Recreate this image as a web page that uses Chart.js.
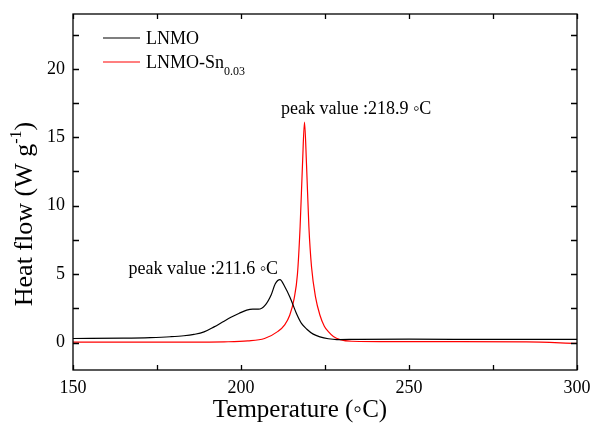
<!DOCTYPE html>
<html>
<head>
<meta charset="utf-8">
<script src="https://cdn.jsdelivr.net/npm/chart.js@4/dist/chart.umd.min.js"></script>
<style>
  html, body { margin: 0; padding: 0; background: #fff; }
  #wrap { width: 592px; height: 425px; }
</style>
</head>
<body>
<div id="wrap"><canvas id="dscChart" width="592" height="425"></canvas></div>
<script>
// DSC curves: temperature (°C) vs heat flow (W g-1)
const lnmoTemp = [150, 165, 173, 179, 183, 186, 189, 192, 194.5, 197, 199.5, 201.7, 203.5, 205.2, 207.2, 209, 210.2, 211.6, 213, 214.6, 216.6, 218, 219.6, 221.5, 223.5, 226, 228.5, 235, 250, 270, 300];
const lnmoFlow = [0.3, 0.33, 0.37, 0.43, 0.5, 0.6, 0.78, 1.15, 1.5, 1.85, 2.15, 2.37, 2.44, 2.44, 2.74, 3.5, 4.3, 4.6, 4.1, 3.3, 2.07, 1.4, 0.98, 0.62, 0.42, 0.28, 0.22, 0.24, 0.25, 0.24, 0.23];

const snTemp = [150, 180, 195, 202, 207, 211, 213, 214.5, 215.8, 216.8, 217.6, 218.3, 218.9, 219.5, 220.2, 221, 222.2, 223.5, 224.8, 226, 227.5, 229.5, 233, 245, 265, 285, 300];
const snFlow = [0.04, 0.04, 0.06, 0.12, 0.3, 0.82, 1.3, 2.0, 3.2, 5.0, 8.5, 13.0, 16.1, 13.0, 8.5, 5.5, 3.3, 2.0, 1.2, 0.8, 0.45, 0.22, 0.1, 0.07, 0.07, 0.05, -0.05];

const xTicks = [150, 175, 200, 225, 250, 275, 300];
const yTicks = [0, 2.5, 5, 7.5, 10, 12.5, 15, 17.5, 20, 22.5];

const seriesNames = ['LNMO', 'LNMO-Sn'];
const seriesSub = ['', '0.03'];
const seriesColors = ['#000000', '#ff0000'];

// peak callouts, anchored in data units (left edge / baseline)
const peakNotes = [
  { text: 'peak value :218.9 \u25E6C', x: 211.9, y: 16.7 },
  { text: 'peak value :211.6 \u25E6C', x: 166.5, y: 5.0 }
];

const serif = '"Liberation Serif", "Times New Roman", serif';

const toPoints = (xs, ys) => xs.map((v, i) => ({ x: v, y: ys[i] }));

// draws a list of [text, fontSize, rise] runs starting at x
function drawRuns(ctx, runs, x, y) {
  runs.forEach(([txt, size, rise]) => {
    ctx.font = size + 'px ' + serif;
    ctx.fillText(txt, x, y - rise);
    x += ctx.measureText(txt).width;
  });
}
function runsWidth(ctx, runs) {
  return runs.reduce((w, [txt, size]) => {
    ctx.font = size + 'px ' + serif;
    return w + ctx.measureText(txt).width;
  }, 0);
}

const decorations = {
  id: 'decorations',
  afterDatasetsDraw(chart) {
    const { ctx, chartArea: a, scales: { x, y } } = chart;
    ctx.save();

    // frame + inward ticks on all four sides
    ctx.strokeStyle = '#000';
    ctx.lineWidth = 1.3;
    ctx.strokeRect(a.left, a.top, a.right - a.left, a.bottom - a.top);
    ctx.beginPath();
    xTicks.forEach(v => {
      const px = Math.round(x.getPixelForValue(v)) + 0.5;
      ctx.moveTo(px, a.bottom); ctx.lineTo(px, a.bottom - 5);
      ctx.moveTo(px, a.top); ctx.lineTo(px, a.top + 5);
    });
    yTicks.forEach(v => {
      const py = Math.round(y.getPixelForValue(v)) + 0.5;
      ctx.moveTo(a.left, py); ctx.lineTo(a.left + 6, py);
      ctx.moveTo(a.right, py); ctx.lineTo(a.right - 6, py);
    });
    ctx.stroke();

    ctx.fillStyle = '#000';
    ctx.textBaseline = 'alphabetic';
    ctx.textAlign = 'left';

    // legend
    seriesNames.forEach((name, i) => {
      const ly = 38 + i * 24;
      ctx.strokeStyle = seriesColors[i];
      ctx.lineWidth = 1.2;
      ctx.beginPath();
      ctx.moveTo(103, ly); ctx.lineTo(140, ly);
      ctx.stroke();
      const runs = [[name, 18, 0]];
      if (seriesSub[i]) runs.push([seriesSub[i], 12, -7]);
      drawRuns(ctx, runs, 146, ly + 6);
    });

    // peak labels
    ctx.font = '18px ' + serif;
    peakNotes.forEach(n => {
      ctx.fillText(n.text, x.getPixelForValue(n.x), y.getPixelForValue(n.y));
    });

    // x axis title
    ctx.font = '25px ' + serif;
    ctx.textAlign = 'center';
    ctx.fillText('Temperature (\u25E6C)', 300, 417);

    // y axis title with superscript
    ctx.textAlign = 'left';
    const yRuns = [['Heat flow (W g', 26, 0], ['-1', 16, 11], [')', 26, 0]];
    const w = runsWidth(ctx, yRuns);
    ctx.translate(32, 214);
    ctx.rotate(-Math.PI / 2);
    drawRuns(ctx, yRuns, -w / 2, 0);

    ctx.restore();
  }
};

// keep the plot box fixed: no extra room for overhanging tick labels
const noOverhang = s => { s.paddingLeft = 0; s.paddingRight = 0; s.paddingTop = 0; s.paddingBottom = 0; };

new Chart(document.getElementById('dscChart'), {
  type: 'line',
  data: {
    datasets: [
      { label: seriesNames[0], data: toPoints(lnmoTemp, lnmoFlow), borderColor: seriesColors[0], borderWidth: 1.2, pointRadius: 0, cubicInterpolationMode: 'monotone', fill: false },
      { label: seriesNames[1] + seriesSub[1], data: toPoints(snTemp, snFlow), borderColor: seriesColors[1], borderWidth: 1.2, pointRadius: 0, cubicInterpolationMode: 'monotone', fill: false }
    ]
  },
  options: {
    responsive: false,
    animation: false,
    layout: { padding: { left: 0, top: 14, right: 15, bottom: 0 } },
    plugins: { legend: { display: false }, tooltip: { enabled: false } },
    scales: {
      x: {
        type: 'linear', min: 150, max: 300,
        afterBuildTicks: s => { s.ticks = xTicks.map(v => ({ value: v })); },
        afterFit: s => { s.height = 55; noOverhang(s); },
        grid: { display: false, drawTicks: false },
        border: { display: false },
        ticks: {
          autoSkip: false, maxRotation: 0, padding: 7, color: '#000',
          font: { family: serif, size: 18 },
          callback: v => (v % 50 === 0 ? String(v) : '')
        }
      },
      y: {
        type: 'linear', min: -2, max: 24,
        afterBuildTicks: s => { s.ticks = yTicks.map(v => ({ value: v })); },
        afterFit: s => { s.width = 73; noOverhang(s); },
        grid: { display: false, drawTicks: false },
        border: { display: false },
        ticks: {
          autoSkip: false, padding: 8, color: '#000',
          font: { family: serif, size: 18 },
          callback: v => (v % 5 === 0 ? String(v) : '')
        }
      }
    }
  },
  plugins: [decorations]
});
</script>
</body>
</html>
